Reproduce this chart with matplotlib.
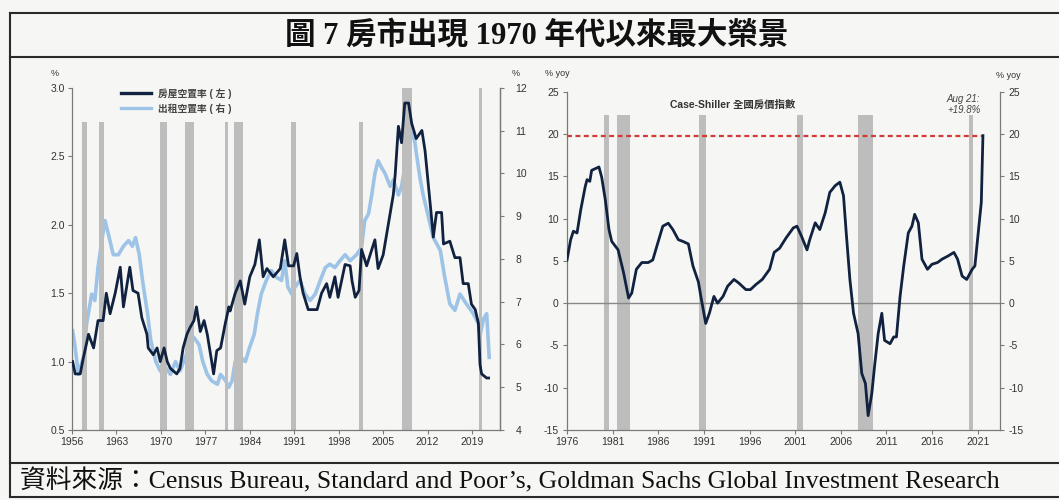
import matplotlib
matplotlib.use("Agg")
import matplotlib.pyplot as plt
from matplotlib.lines import Line2D

# ---------------- data ----------------
# Homeowner vacancy rate, % (left axis of the left panel)
owner_year = [1956.1, 1956.5, 1957.3, 1957.8, 1958.6, 1959.4, 1960.1, 1960.9, 1961.4, 1962.0,
              1962.8, 1963.6, 1964.1, 1965.1, 1965.6, 1966.4, 1967.0, 1967.8, 1968.0, 1968.8,
              1969.4, 1969.9, 1970.5, 1971.0, 1971.5, 1972.5, 1973.0, 1973.5, 1974.1, 1974.6,
              1975.2, 1975.6, 1976.2, 1976.8, 1977.3, 1978.0, 1978.3, 1978.8, 1979.4, 1980.1,
              1980.7, 1980.9, 1981.7, 1982.5, 1983.2, 1984.0, 1984.8, 1985.5, 1986.1, 1986.7,
              1987.7, 1988.8, 1989.5, 1990.1, 1990.9, 1991.4, 1991.9, 1992.4, 1993.2, 1994.6,
              1995.3, 1996.1, 1996.6, 1997.4, 1997.9, 1999.0, 1999.8, 2000.1, 2000.6, 2001.2,
              2001.6, 2002.4, 2003.7, 2004.2, 2005.0, 2005.8, 2006.6, 2006.9, 2007.4, 2007.9,
              2008.4, 2009.0, 2009.5, 2010.2, 2011.1, 2011.6, 2012.6, 2012.9, 2013.4, 2014.2,
              2014.5, 2015.5, 2016.3, 2017.1, 2017.6, 2018.4, 2018.9, 2019.5, 2020.0, 2020.25,
              2020.5, 2021.3, 2021.6]
owner_rate = [1.00, 0.91, 0.91, 1.03, 1.20, 1.10, 1.30, 1.30, 1.50, 1.35,
              1.50, 1.69, 1.40, 1.69, 1.52, 1.50, 1.32, 1.20, 1.10, 1.05,
              1.10, 1.00, 1.10, 1.00, 0.95, 0.91, 0.95, 1.10, 1.20, 1.25,
              1.30, 1.40, 1.22, 1.30, 1.20, 1.00, 0.91, 1.08, 1.10, 1.27,
              1.40, 1.37, 1.50, 1.59, 1.42, 1.62, 1.71, 1.89, 1.62, 1.68,
              1.62, 1.68, 1.89, 1.70, 1.70, 1.79, 1.62, 1.50, 1.38, 1.38,
              1.50, 1.57, 1.47, 1.62, 1.47, 1.71, 1.70, 1.59, 1.47, 1.52,
              1.82, 1.70, 1.89, 1.68, 1.78, 2.00, 2.22, 2.37, 2.72, 2.60,
              2.89, 2.89, 2.74, 2.63, 2.69, 2.54, 2.06, 1.91, 2.09, 2.09,
              1.86, 1.88, 1.76, 1.76, 1.57, 1.57, 1.42, 1.38, 1.28, 0.98,
              0.91, 0.88, 0.88]

# Rental vacancy rate, % (right axis of the left panel)
rent_year = [1956.1, 1956.5, 1957.0, 1957.8, 1958.3, 1959.1, 1959.6, 1960.1, 1960.7, 1961.2,
             1961.7, 1962.5, 1963.3, 1964.1, 1964.9, 1965.5, 1966.0, 1966.6, 1967.1, 1967.9,
             1968.4, 1969.2, 1969.9, 1970.8, 1971.5, 1972.3, 1973.0, 1974.0, 1974.6, 1975.2,
             1976.0, 1976.6, 1977.3, 1978.0, 1978.9, 1979.4, 1980.2, 1980.7, 1981.2, 1981.7,
             1982.6, 1983.3, 1983.9, 1984.7, 1985.2, 1985.8, 1986.6, 1987.4, 1988.2, 1989.0,
             1989.5, 1990.0, 1990.6, 1991.1, 1991.9, 1992.7, 1993.5, 1994.3, 1995.1, 1995.9,
             1996.6, 1997.4, 1998.2, 1999.0, 1999.8, 2000.8, 2001.6, 2002.1, 2002.7, 2003.2,
             2003.7, 2004.2, 2004.7, 2005.3, 2006.1, 2006.6, 2007.4, 2007.9, 2008.7, 2009.5,
             2009.8, 2010.2, 2010.8, 2011.3, 2012.1, 2012.9, 2014.0, 2014.7, 2015.5, 2016.3,
             2017.1, 2018.1, 2019.2, 2020.0, 2020.25, 2020.8, 2021.3, 2021.7]
rent_rate = [6.32, 5.93, 5.30, 5.70, 6.48, 7.18, 7.03, 7.81, 8.43, 8.90,
             8.60, 8.10, 8.10, 8.30, 8.43, 8.30, 8.50, 8.10, 7.50, 6.72,
             6.10, 5.60, 5.38, 5.45, 5.30, 5.60, 5.38, 5.76, 6.24, 6.16,
             6.00, 5.60, 5.30, 5.15, 5.07, 5.30, 5.15, 5.00, 5.15, 5.60,
             5.70, 5.60, 5.90, 6.24, 6.72, 7.18, 7.50, 7.73, 7.57, 7.50,
             7.96, 7.34, 7.18, 7.34, 7.50, 7.18, 7.03, 7.18, 7.50, 7.80,
             7.88, 7.80, 7.96, 8.10, 7.96, 8.10, 8.27, 8.90, 9.06, 9.50,
             10.00, 10.30, 10.15, 10.00, 9.70, 9.85, 9.50, 9.70, 10.40, 10.90,
             10.95, 10.50, 9.90, 9.50, 9.00, 8.50, 8.20, 7.57, 6.95, 6.80,
             7.18, 6.95, 6.72, 6.48, 6.20, 6.60, 6.72, 5.70]

# Case-Shiller national home price index, % yoy
cs_year = [1976.0, 1976.4, 1976.7, 1977.1, 1977.5, 1978.0, 1978.2, 1978.5, 1978.7, 1979.1,
           1979.5, 1979.8, 1980.2, 1980.6, 1980.9, 1981.6, 1982.2, 1982.75, 1983.1, 1983.6,
           1984.2, 1984.9, 1985.4, 1986.0, 1986.5, 1987.1, 1987.6, 1988.2, 1988.7, 1989.3,
           1989.8, 1990.4, 1990.7, 1991.2, 1991.6, 1992.1, 1992.5, 1993.1, 1993.6, 1994.3,
           1994.8, 1995.6, 1996.1, 1996.7, 1997.4, 1998.2, 1998.7, 1999.3, 2000.0, 2000.8,
           2001.2, 2001.7, 2002.3, 2002.6, 2003.2, 2003.7, 2004.3, 2004.8, 2005.4, 2005.9,
           2006.3, 2006.6, 2007.0, 2007.4, 2007.9, 2008.3, 2008.7, 2009.0, 2009.4, 2009.7,
           2010.1, 2010.5, 2010.8, 2011.4, 2011.8, 2012.1, 2012.5, 2012.9, 2013.4, 2013.8,
           2014.1, 2014.5, 2014.9, 2015.5, 2016.0, 2016.6, 2017.1, 2017.8, 2018.4, 2018.8,
           2019.3, 2019.8, 2020.4, 2020.7, 2021.1, 2021.4, 2021.58]
cs_yoy = [5.1, 7.5, 8.5, 8.3, 11.0, 13.8, 14.6, 14.4, 15.7, 15.9,
          16.1, 14.9, 12.2, 8.7, 7.3, 6.3, 3.6, 0.6, 1.2, 4.0,
          4.8, 4.8, 5.1, 7.3, 9.1, 9.45, 8.7, 7.5, 7.3, 7.0,
          4.4, 2.5, 0.6, -2.4, -1.2, 0.8, 0.0, 0.8, 2.0, 2.8,
          2.4, 1.6, 1.6, 2.2, 2.8, 4.0, 6.0, 6.5, 7.7, 8.9,
          9.1, 7.9, 6.3, 7.5, 9.5, 8.7, 10.7, 13.1, 13.9, 14.3,
          12.7, 8.3, 2.8, -1.2, -3.6, -8.3, -9.5, -13.3, -10.7, -7.5,
          -3.6, -1.2, -4.4, -4.8, -4.0, -4.0, 0.8, 4.4, 8.3, 9.1,
          10.5, 9.5, 5.2, 4.0, 4.6, 4.8, 5.2, 5.6, 6.0, 5.2,
          3.2, 2.8, 4.0, 4.4, 8.7, 11.9, 19.8]
cs_latest_label = "Aug 21:\n+19.8%"

# US recessions (start, end), fractional years
rec_start = [1957.6, 1960.2, 1969.9, 1973.8, 1980.1, 1981.5, 1990.5, 2001.2, 2007.9, 2020.1]
rec_end   = [1958.3, 1961.1, 1970.9, 1975.2, 1980.6, 1982.9, 1991.2, 2001.9, 2009.5, 2020.5]

left_xticks = [1956, 1963, 1970, 1977, 1984, 1991, 1998, 2005, 2012, 2019]
left_yticks = [0.5, 1.0, 1.5, 2.0, 2.5, 3.0]
rent_yticks = [4, 5, 6, 7, 8, 9, 10, 11, 12]
right_xticks = [1976, 1981, 1986, 1991, 1996, 2001, 2006, 2011, 2016, 2021]
right_yticks = [-15, -10, -5, 0, 5, 10, 15, 20, 25]

title_text = "圖 7 房市出現 1970 年代以來最大榮景"
source_text = "資料來源：Census Bureau, Standard and Poor’s, Goldman Sachs Global Investment Research"
owner_label = "房屋空置率 ( 左 )"
rent_label = "出租空置率 ( 右 )"
cs_title = "Case-Shiller 全國房價指數"

# ---------------- styling ----------------
W, H = 1059, 500
BG = "#f6f6f4"
NAVY = "#10223f"
LIGHT = "#9dc3e6"
REC = "#bdbdbd"
SPINE = "#7a7a7a"
TXT = "#333333"
SANS = ["Liberation Sans", "Noto Sans CJK TC"]
SERIF = ["Liberation Serif", "Noto Sans CJK TC"]

plt.rcParams["font.family"] = SANS
plt.rcParams["axes.unicode_minus"] = False


def fx(px):
    return px / W


def fy(py):
    return 1 - py / H


fig = plt.figure(figsize=(W / 100, H / 100), dpi=100, facecolor=BG)

# frame lines around title / charts / source
for y in (13, 57, 463, 497):
    fig.add_artist(Line2D([fx(10), 1.0], [fy(y), fy(y)], color="#2a2a2a", lw=1.5))
fig.add_artist(Line2D([fx(10), fx(10)], [fy(13), fy(497)], color="#2a2a2a", lw=1.5))

fig.text(fx(537), fy(36), title_text, ha="center", va="center", fontsize=22,
         fontweight="bold", family=SERIF, color="#111111")
fig.text(fx(20), fy(481), source_text, ha="left", va="center", fontsize=18.5,
         family=SERIF, color="#111111")


def style_axis(ax, sides):
    for s in ("top", "left", "right", "bottom"):
        ax.spines[s].set_visible(s in sides)
        ax.spines[s].set_color(SPINE)
        ax.spines[s].set_linewidth(0.9)
    ax.tick_params(colors=SPINE, labelcolor=TXT, labelsize=7.5, length=3, width=0.8,
                   direction="out", pad=2)
    ax.set_facecolor("none")


# ---------------- left panel: vacancy rates ----------------
axL = fig.add_axes([fx(72), fy(430), fx(500) - fx(72), fy(88) - fy(430)])
axL.set_xlim(1956, 2023.4)
axL.set_ylim(0.5, 3.0)
style_axis(axL, ("left", "bottom", "right"))
axL.set_xticks(left_xticks)
axL.set_yticks(left_yticks)
axL.set_yticklabels([f"{v:.1f}" for v in left_yticks])

for s, e in zip(rec_start, rec_end):
    top = 3.0 if s > 2007 else 2.75
    axL.fill_between([s, e], 0.5, top, color=REC, lw=0, zorder=1)

axR = axL.twinx()
axR.set_ylim(4, 12)
style_axis(axR, ("right",))
axR.set_yticks(rent_yticks)
axR.tick_params(axis="y", pad=8)

axR.plot(rent_year, rent_rate, color=LIGHT, lw=2.6, zorder=3)
axL.set_zorder(axR.get_zorder() + 1)
axL.plot(owner_year, owner_rate, color=NAVY, lw=2.0, zorder=4)

handles = [Line2D([], [], color=NAVY, lw=2.4), Line2D([], [], color=LIGHT, lw=2.4)]
leg = axL.legend(handles, [owner_label, rent_label], loc="upper left",
                 bbox_to_anchor=(0.095, 1.025), frameon=False,
                 handlelength=3.0, labelspacing=0.45,
                 prop={"family": SANS, "size": 7, "weight": "bold"})
for t in leg.get_texts():
    t.set_color("#444444")

fig.text(fx(55), fy(73), "%", fontsize=6.5, color=TXT, ha="center", va="center")
fig.text(fx(516), fy(73), "%", fontsize=6.5, color=TXT, ha="center", va="center")

# ---------------- right panel: Case-Shiller yoy ----------------
axC = fig.add_axes([fx(567), fy(430), fx(1000) - fx(567), fy(91.7) - fy(430)])
axC.set_xlim(1976, 2023.45)
axC.set_ylim(-15, 25)
style_axis(axC, ("left", "bottom", "right"))
axC.set_xticks(right_xticks)
axC.set_yticks(right_yticks)
axC.tick_params(axis="y", right=True, labelright=True, pad=3)

for s, e in zip(rec_start, rec_end):
    if s >= 1976:
        axC.fill_between([s, e], -15, 22.3, color=REC, lw=0, zorder=1)

axC.axhline(0, color="#888888", lw=1.0, zorder=2)
axC.plot([cs_year[0], cs_year[-1]], [cs_yoy[-1], cs_yoy[-1]], color="#d43a35", lw=1.6,
         ls=(0, (2.2, 1.6)), zorder=3)
axC.plot(cs_year, cs_yoy, color=NAVY, lw=2.0, zorder=4)
axC.text(cs_year[-1] - 0.3, 24.7, cs_latest_label, ha="right", va="top", fontsize=7,
         style="italic", color="#444444", linespacing=1.1)
axC.text(0.383, 0.96, cs_title, transform=axC.transAxes, ha="center", va="center",
         fontsize=7.5, fontweight="bold", color="#333333")

fig.text(fx(557), fy(73), "% yoy", fontsize=6.5, color=TXT, ha="center", va="center")
fig.text(fx(1008), fy(75), "% yoy", fontsize=6.5, color=TXT, ha="center", va="center")

fig.savefig("out.png", dpi=100, facecolor=BG)
